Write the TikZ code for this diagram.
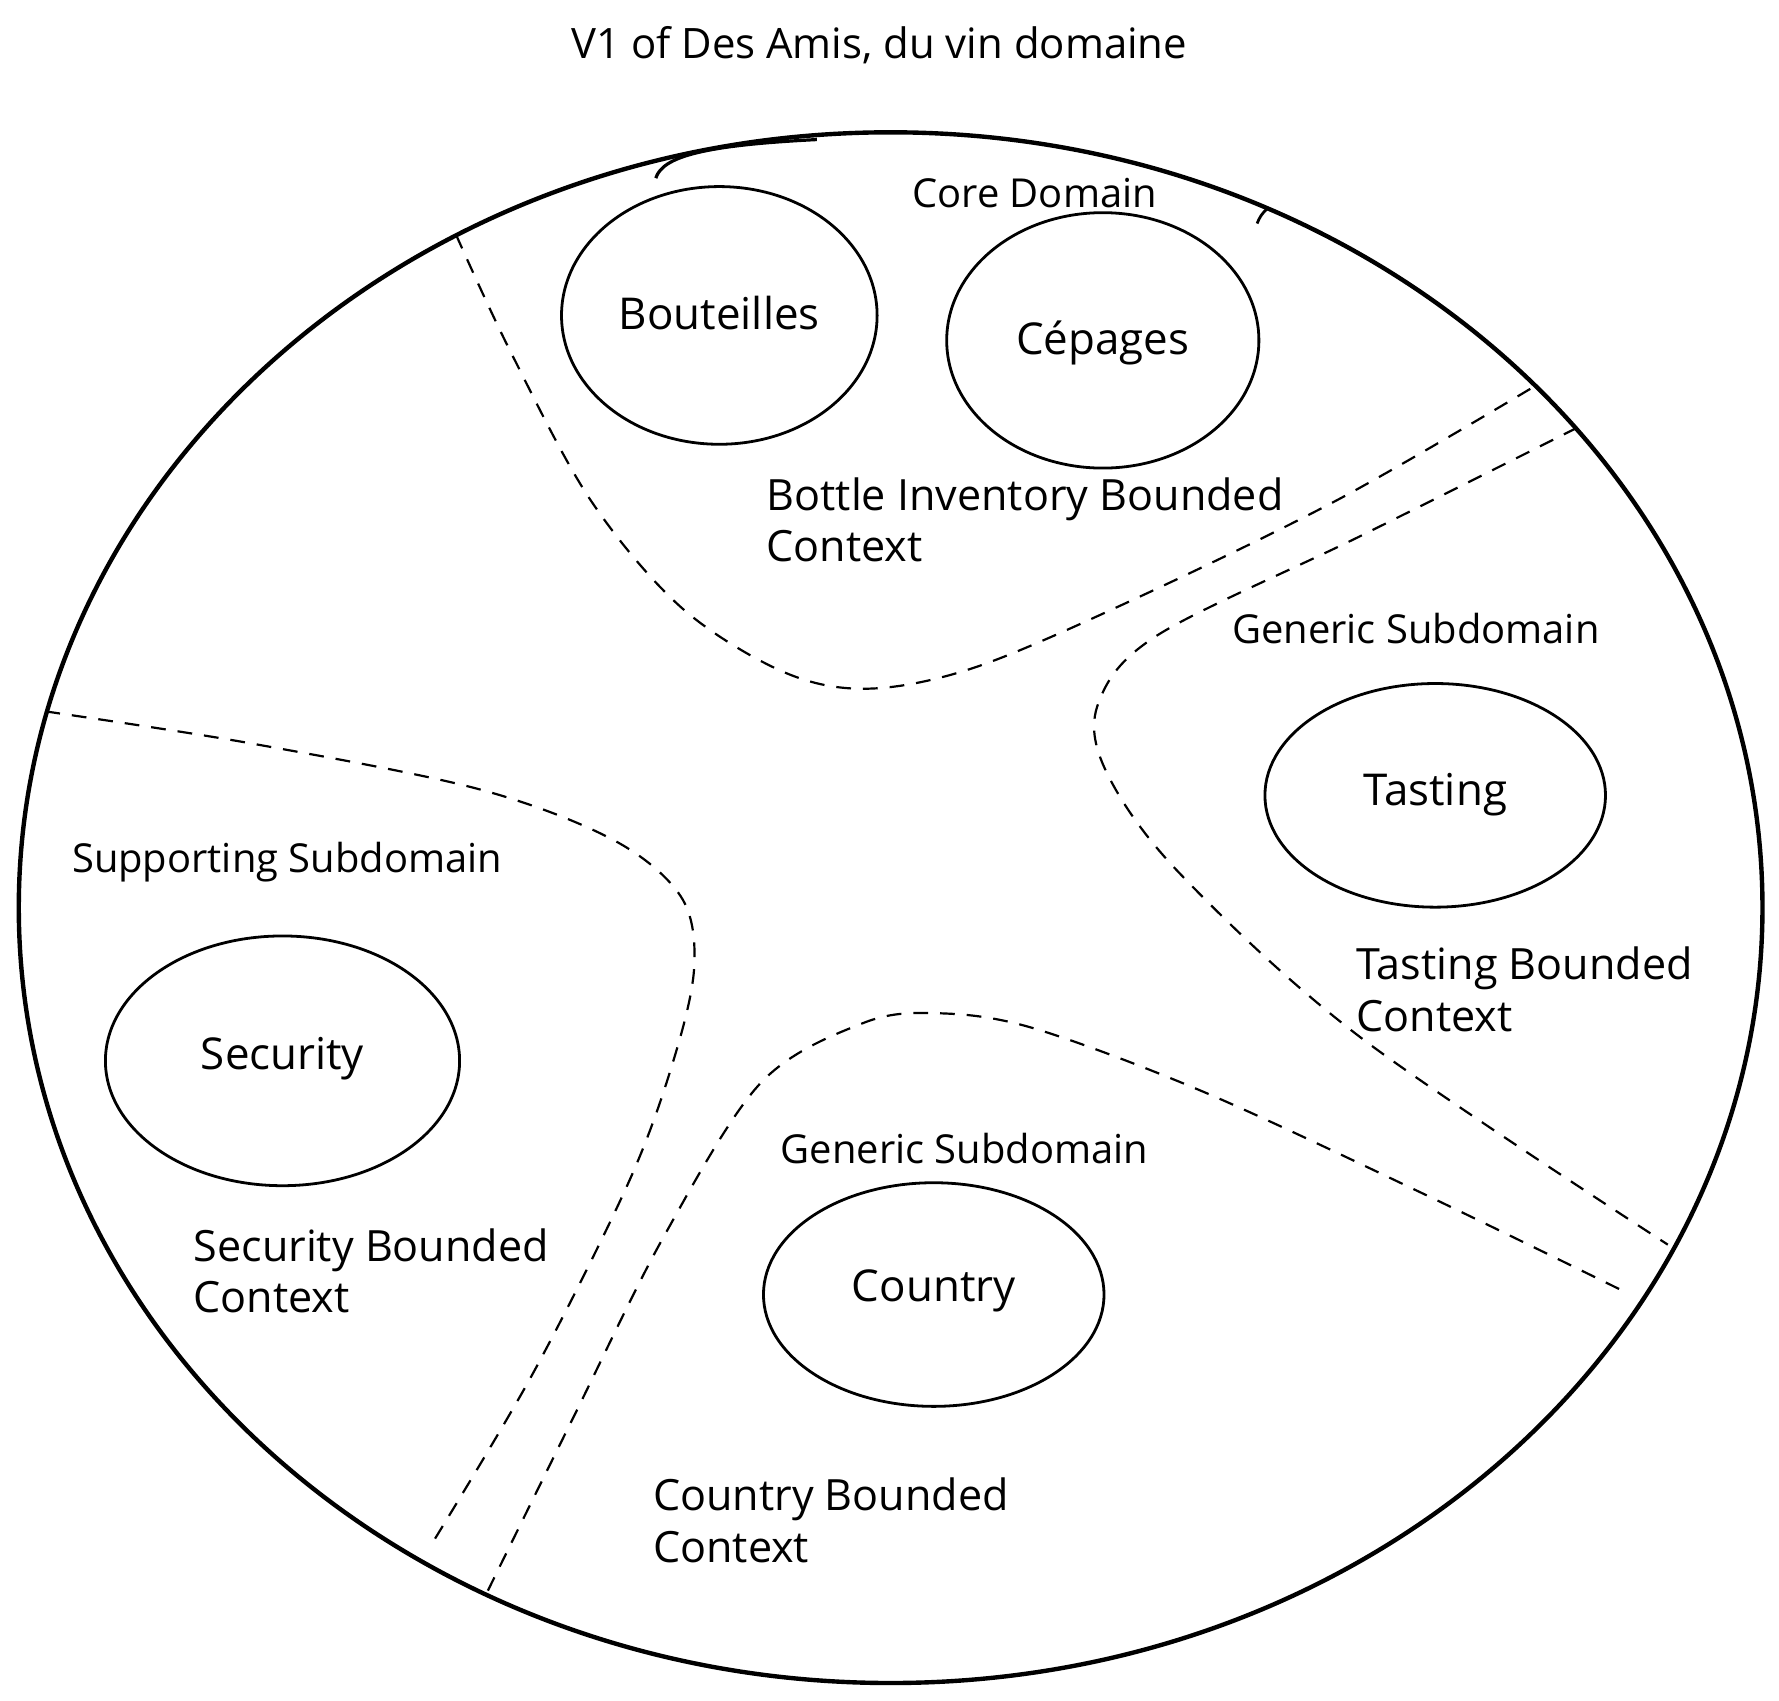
\documentclass[tikz,border=0pt]{standalone}
\usepackage{fontspec}
\setmainfont{Open Sans}
\usetikzlibrary{shapes.geometric}
\begin{document}
\begin{tikzpicture}[x=0.01cm,y=-0.01cm,
  small/.style={font=\fontsize{10}{12}\selectfont, inner sep=0pt},
  inner/.style={font=\fontsize{11}{13}\selectfont, inner sep=0pt},
  bctx/.style={font=\fontsize{10.8}{12.8}\selectfont, inner sep=0pt, align=left, anchor=west},
  bubble/.style={draw, ellipse, line width=0.7pt, inner sep=0pt},
  boundary/.style={line width=0.55pt, dash pattern=on 3.7pt off 3pt},
]
\useasboundingbox (0,0) rectangle (1568,1499);

% outer domain
\node[draw, ellipse, line width=1.1pt, minimum width=15.36cm, minimum height=13.66cm, inner sep=0pt] (domain) at (785,800) {};
% sketch overlap at the top of the outer domain
\draw[line width=0.8pt] (578,157) .. controls (584,138) and (620,128) .. (720,123);
\draw[line width=0.7pt] (1118,183) .. controls (1112,188) and (1110,192) .. (1108,197);

% title
\node[small, font=\fontsize{10.5}{12}\selectfont] (title) at (775,40) {V1 of Des Amis, du vin domaine};

% boundaries
\draw[boundary] plot[smooth, tension=0.55] coordinates {(402,207) (450,310) (520,440) (600,535) (690,592) (765,607) (860,588) (1000,528) (1180,440) (1350,342)};
\draw[boundary] plot[smooth, tension=0.55] coordinates {(1390,377) (1200,472) (1020,560) (968,620) (975,680) (1040,770) (1200,915) (1470,1097)};
\draw[boundary] plot[smooth, tension=0.55] coordinates {(40,627) (220,655) (420,695) (540,740) (600,790) (612,850) (595,930) (555,1040) (470,1210) (378,1365)};
\draw[boundary] plot[smooth, tension=0.55] coordinates {(430,1402) (505,1250) (585,1090) (670,955) (760,902) (825,893) (910,906) (1060,962) (1250,1050) (1435,1140)};

% core domain
\node[small] (core) at (912,170) {Core Domain};
\node[bubble, minimum width=2.78cm, minimum height=2.27cm] (bout) at (634,278) {};
\node[inner] (boutl) at (634,276) {Bouteilles};
\node[bubble, minimum width=2.75cm, minimum height=2.25cm] (cep) at (972,300) {};
\node[inner] (cepl) at (972,302) {Cépages};
\node[bctx] (bic) at (675,458) {Bottle Inventory Bounded\\Context};

% tasting
\node[small] (gen1) at (1248,554) {Generic Subdomain};
\node[bubble, minimum width=3.0cm, minimum height=1.97cm] (tast) at (1265,701) {};
\node[inner] (tastl) at (1265,700) {Tasting};
\node[bctx] (tbc) at (1195,872) {Tasting Bounded\\Context};

% security
\node[small] (supp) at (253,760) {Supporting Subdomain};
\node[bubble, minimum width=3.12cm, minimum height=2.2cm] (sec) at (249,935) {};
\node[inner] (secl) at (249,933) {Security};
\node[bctx] (sbc) at (170,1120) {Security Bounded\\Context};

% country
\node[small] (gen2) at (850,1012) {Generic Subdomain};
\node[bubble, minimum width=3.0cm, minimum height=1.97cm] (cty) at (823,1141) {};
\node[inner] (ctyl) at (823,1138) {Country};
\node[bctx] (cbc) at (575,1340) {Country Bounded\\Context};
\end{tikzpicture}
\end{document}
